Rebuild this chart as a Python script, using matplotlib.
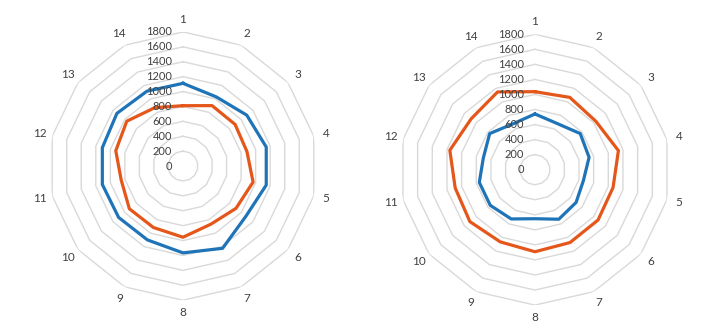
import numpy as np
import matplotlib
matplotlib.use("Agg")
import matplotlib.pyplot as plt
from matplotlib.transforms import offset_copy

plt.rcParams["font.family"] = ["Lato", "DejaVu Sans"]

categories = [str(i) for i in range(1, 15)]
ring_values = [0, 200, 400, 600, 800, 1000, 1200, 1400, 1600, 1800]

# left chart
left_blue = [1110, 1030, 1095, 1146, 1146, 1080, 1225, 1165, 1100, 1105, 1110, 1110, 1134, 1115]
left_orange = [810, 900, 895, 880, 965, 910, 865, 955, 915, 920, 850, 925, 965, 870]
# right chart
right_blue = [741, 681, 770, 738, 660, 699, 731, 652, 727, 760, 759, 704, 770, 676]
right_orange = [1037, 1067, 1034, 1138, 1065, 1073, 1075, 1091, 1065, 1107, 1088, 1161, 1085, 1147]

blue = "#1f74b8"
orange = "#e5561a"
grid_col = "#d9d9d9"
text_col = "#404040"

fig = plt.figure(figsize=(7.12, 3.30), dpi=100)

angles = np.linspace(0, 2 * np.pi, len(categories), endpoint=False)
closed = np.append(angles, angles[0])


def radar(rect, blue_vals, orange_vals):
    ax = fig.add_axes(rect, projection="polar")
    ax.set_theta_zero_location("N")
    ax.set_theta_direction(-1)
    ax.set_ylim(0, 1800)
    ax.grid(False)
    ax.spines["polar"].set_visible(False)
    ax.set_yticks([])
    ax.set_xticks(angles)
    ax.set_xticklabels(categories, color=text_col, fontsize=8.5)
    ax.tick_params(axis="x", pad=2, length=0)
    for r in ring_values[1:]:
        ax.plot(closed, [r] * len(closed), color=grid_col, lw=1.0, zorder=1)
    ax.plot(closed, blue_vals + blue_vals[:1], color=blue, lw=2.3, zorder=3)
    ax.plot(closed, orange_vals + orange_vals[:1], color=orange, lw=2.3, zorder=3)
    tr = offset_copy(ax.transData, fig=fig, x=-11, y=0, units="dots")
    for r in ring_values:
        ax.text(0, r, str(r), transform=tr, ha="right", va="center",
                color=text_col, fontsize=8, zorder=4)
    return ax


radar([0.0685, 0.0903, 0.377, 0.813], left_blue, left_orange)
radar([0.5612, 0.0755, 0.3803, 0.8206], right_blue, right_orange)

fig.savefig("out.png", dpi=100, facecolor="white")
